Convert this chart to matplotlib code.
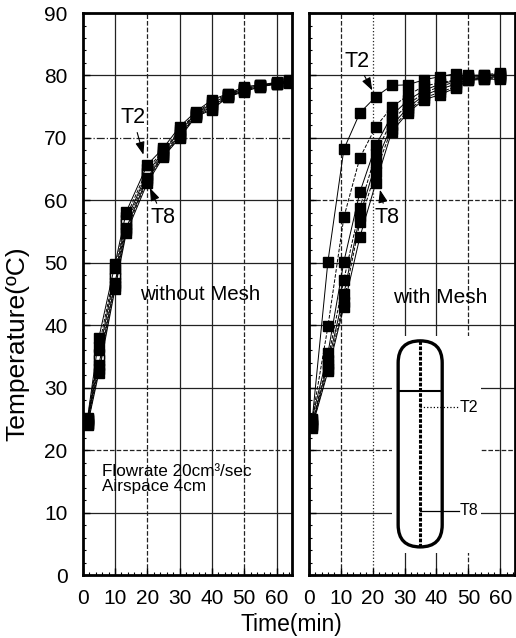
import matplotlib
matplotlib.use("Agg")
import matplotlib.pyplot as plt
from matplotlib.patches import FancyBboxPatch, Rectangle
from matplotlib.ticker import MultipleLocator

plt.rcParams['font.family'] = ['Liberation Sans', 'DejaVu Sans']

# Without mesh: time (min) and temperature of thermocouples T2..T8
t_nomesh = [1.5, 5, 10, 13.5, 20, 25, 30, 35, 40, 45, 50, 55, 60, 64]
nm_T2 = [25.2, 38.0, 49.8, 58.2, 65.7, 68.4, 71.8, 74.2, 76.1, 77.1, 78.2, 78.5, 78.9, 79.2]
nm_T3 = [25.0, 36.5, 49.0, 57.4, 65.0, 68.0, 71.3, 74.0, 75.8, 77.0, 78.0, 78.4, 78.8, 79.1]
nm_T4 = [24.8, 35.4, 48.2, 56.8, 64.4, 67.8, 71.0, 73.9, 75.5, 76.9, 77.9, 78.4, 78.8, 79.0]
nm_T5 = [24.6, 34.5, 47.5, 56.2, 64.0, 67.5, 70.7, 73.8, 75.2, 76.8, 77.8, 78.3, 78.8, 79.0]
nm_T6 = [24.4, 33.6, 46.8, 55.6, 63.6, 67.3, 70.4, 73.6, 75.0, 76.7, 77.6, 78.3, 78.7, 78.9]
nm_T7 = [24.2, 33.0, 46.3, 55.2, 63.3, 67.1, 70.2, 73.5, 74.7, 76.6, 77.5, 78.2, 78.7, 78.9]
nm_T8 = [24.0, 32.4, 45.8, 54.8, 62.8, 67.0, 70.0, 73.4, 74.5, 76.6, 77.4, 78.2, 78.6, 78.8]

# With mesh
t_mesh = [1, 6, 11, 16, 21, 26, 31, 36, 41, 46, 50, 55, 60]
m_T2 = [24.5, 50.2, 68.2, 74.0, 76.6, 78.4, 78.5, 79.3, 79.8, 80.3, 79.6, 79.9, 79.9]
m_T3 = [24.8, 39.8, 57.3, 66.8, 71.8, 74.9, 76.8, 78.3, 78.8, 79.3, 80.0, 80.1, 80.4]
m_T4 = [25.0, 35.5, 50.2, 61.3, 68.8, 73.6, 76.0, 77.6, 78.6, 79.2, 79.8, 80.0, 80.2]
m_T5 = [24.2, 34.5, 47.3, 58.8, 67.5, 72.8, 75.3, 77.2, 78.2, 79.0, 79.6, 79.8, 80.0]
m_T6 = [24.0, 33.8, 45.0, 57.5, 66.0, 72.0, 74.8, 76.8, 77.8, 78.6, 79.4, 79.6, 79.8]
m_T7 = [23.8, 33.0, 43.8, 56.5, 64.6, 71.5, 74.3, 76.4, 77.3, 78.2, 79.3, 79.5, 79.6]
m_T8 = [23.6, 32.6, 43.0, 54.1, 62.8, 71.0, 74.0, 76.1, 76.9, 78.0, 79.2, 79.4, 79.4]

nomesh = [nm_T2, nm_T3, nm_T4, nm_T5, nm_T6, nm_T7, nm_T8]
mesh = [m_T2, m_T3, m_T4, m_T5, m_T6, m_T7, m_T8]

x_ticks = [0, 10, 20, 30, 40, 50, 60]
y_ticks = [0, 10, 20, 30, 40, 50, 60, 70, 80, 90]

line_styles = ['-', '--', '-', '--', '-', '--', '-']
face_cols = [['black', 'black', 'black', 'white', 'black', 'black', 'black'],
             ['black'] * 7]

# gridline styles per panel (scanned original has mixed dashes)
grid_v = [{10: '-', 20: '--', 30: '-', 40: '-', 50: '--', 60: '-'},
          {10: '--', 20: ':', 30: '-', 40: '-', 50: '--', 60: '-'}]
grid_h = [{10: '-', 20: '--', 30: '-', 40: '-', 50: '-', 60: '-', 70: '-.', 80: '-'},
          {10: '-', 20: '--', 30: '-', 40: '-', 50: '-', 60: '--', 70: '-', 80: '-'}]

fig = plt.figure(figsize=(5.16, 6.38), dpi=100)
ax1 = fig.add_axes([0.1603, 0.0987, 0.4056, 0.8809])
ax2 = fig.add_axes([0.5984, 0.0987, 0.3996, 0.8809])

for i, (ax, t, data) in enumerate([(ax1, t_nomesh, nomesh), (ax2, t_mesh, mesh)]):
    for k, y in enumerate(data):
        ax.plot(t, y, color='black', lw=0.7, ls=line_styles[k], marker='s', ms=6.5,
                mfc=face_cols[i][k], mec='black', mew=1.0, zorder=3 + (k == 0))
    for xv, ls in grid_v[i].items():
        ax.axvline(xv, color='#222222', lw=0.9, ls=ls, zorder=0.5)
    for yv, ls in grid_h[i].items():
        ax.axhline(yv, color='#222222', lw=0.9, ls=ls, zorder=0.5)
    ax.set_ylim(0, 90)
    ax.set_xticks(x_ticks)
    ax.set_yticks(y_ticks)
    ax.xaxis.set_minor_locator(MultipleLocator(2))
    ax.yaxis.set_minor_locator(MultipleLocator(2))
    ax.tick_params(which='major', direction='in', length=5, width=1, labelsize=15)
    ax.tick_params(axis='x', pad=10)
    ax.tick_params(axis='y', pad=11)
    ax.tick_params(which='minor', direction='in', length=2.5, width=0.8)
    for s in ax.spines.values():
        s.set_linewidth(2)

ax1.set_xlim(0, 64.8)
ax2.set_xlim(0, 64.6)
ax2.tick_params(labelleft=False)

arrow = dict(arrowstyle='-|>,head_length=0.5,head_width=0.18', color='black', lw=0.8,
             shrinkA=1, shrinkB=0)

# left panel labels
ax1.annotate('T2', xy=(18.8, 67.3), xytext=(15.6, 73.2), ha='center', va='center',
             fontsize=15.5, arrowprops=arrow, zorder=6)
ax1.annotate('T8', xy=(20.8, 62.0), xytext=(24.9, 57.2), ha='center', va='center',
             fontsize=15.5, arrowprops=arrow, zorder=6)
ax1.text(36.3, 44.9, 'without Mesh', ha='center', va='center', fontsize=14.8)
ax1.text(5.9, 15.35, 'Flowrate 20cm³/sec\nAirspace 4cm', ha='left', va='center',
         fontsize=12.3, linespacing=0.95)

# right panel labels
ax2.annotate('T2', xy=(19.9, 77.6), xytext=(15.0, 82.3), ha='center', va='center',
             fontsize=15.5, arrowprops=arrow, zorder=6)
ax2.annotate('T8', xy=(22.3, 61.7), xytext=(24.4, 57.2), ha='center', va='center',
             fontsize=15.5, arrowprops=arrow, zorder=6)
ax2.text(41.1, 44.4, 'with Mesh', ha='center', va='center', fontsize=15)

# schematic of the column with thermocouple positions
ax2.add_patch(Rectangle((26, 3.5), 28, 34.8, facecolor='white', edgecolor='none', zorder=1))
ins = ax2.inset_axes([28, 4.5, 13.8, 33], transform=ax2.transData)
ins.set_xlim(0, 44)
ins.set_ylim(0, 206)
ins.axis('off')
ins.patch.set_alpha(0)
ins.add_patch(FancyBboxPatch((0, 0), 44, 206, boxstyle='round,pad=0,rounding_size=22',
                             fill=False, lw=2.4, ec='black', clip_on=False))
ax2.plot([34.9, 34.9], [4.5, 37.5], color='black', lw=2.2, ls=(0, (1.2, 0.5)), zorder=4)
ax2.plot([28, 41.8], [29.5, 29.5], color='black', lw=1.5, zorder=4)
ax2.plot([34.9, 46.8], [26.9, 26.9], color='black', lw=0.9, ls=':', zorder=4)
ax2.plot([34.9, 47.0], [10.3, 10.3], color='black', lw=0.9, zorder=4)
ax2.text(47.3, 26.9, 'T2', ha='left', va='center', fontsize=11.5, zorder=5)
ax2.text(47.3, 10.3, 'T8', ha='left', va='center', fontsize=11.5, zorder=5)

fig.text(291 / 516, 14 / 638, 'Time(min)', ha='center', va='center', fontsize=16.5)
fig.text(17 / 516, 1 - 344 / 638, 'Temperature(ºC)', ha='center', va='center',
         rotation=90, fontsize=19)

fig.savefig('out.png', dpi=100)
